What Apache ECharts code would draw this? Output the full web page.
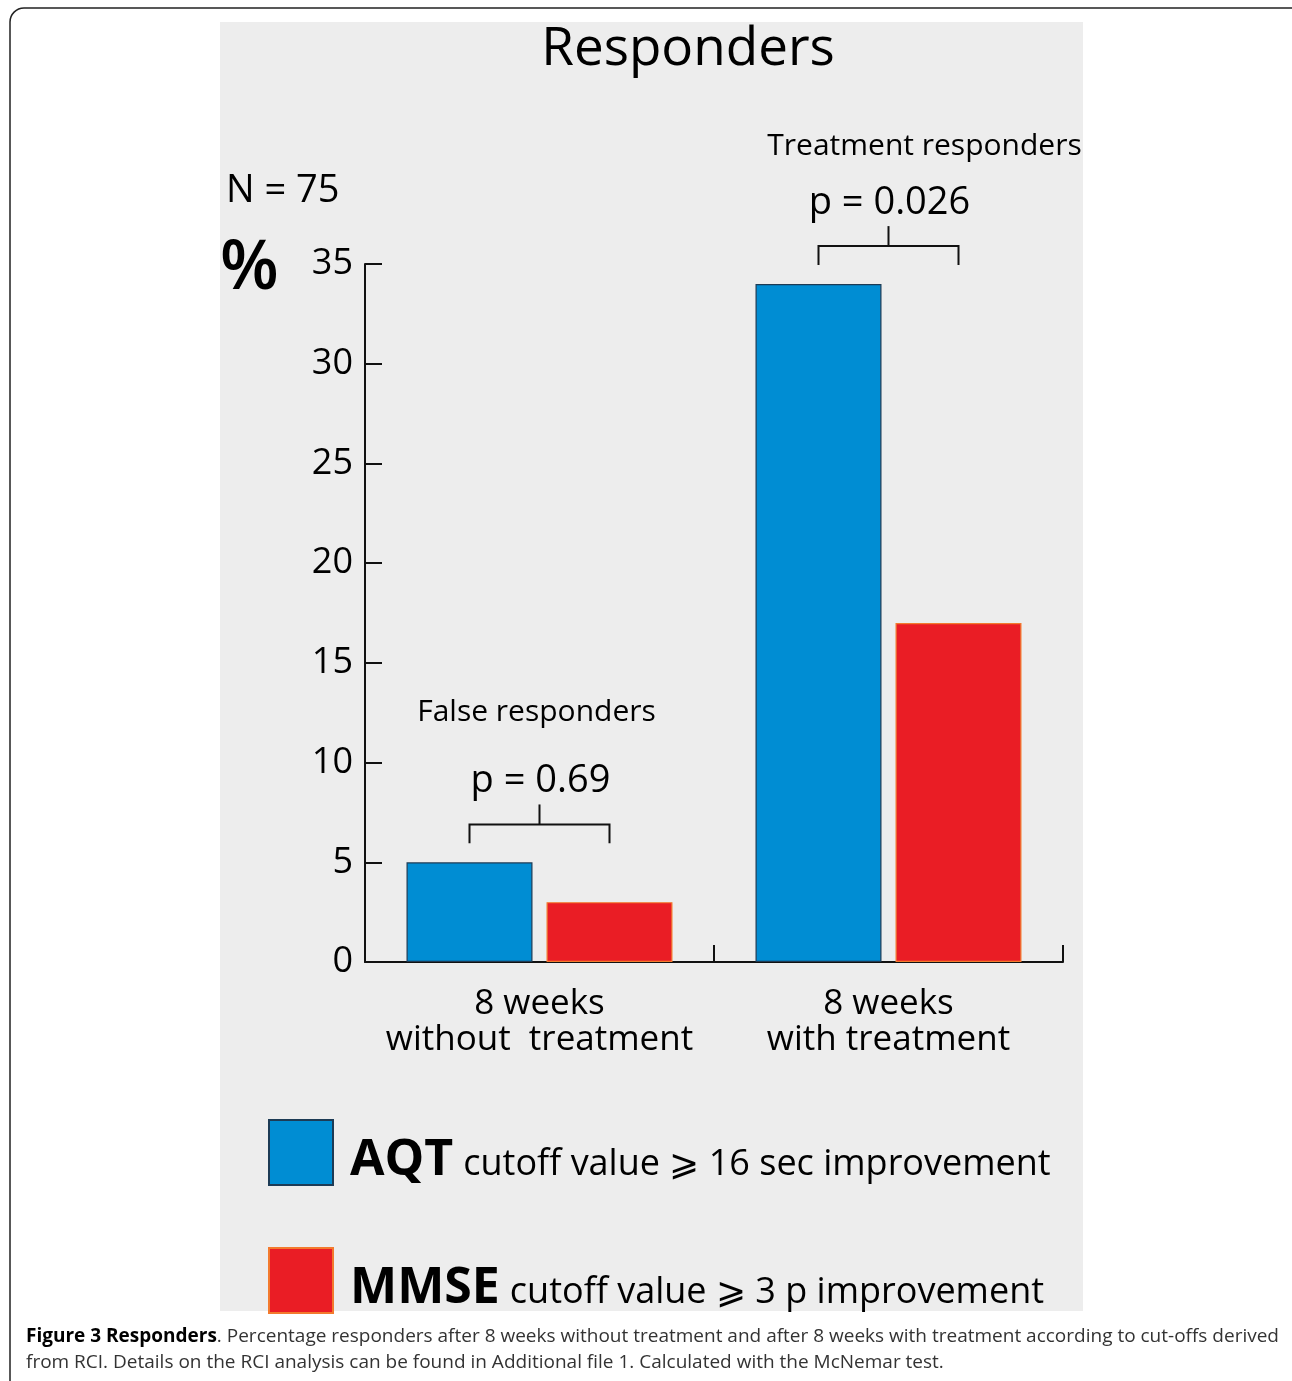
<!DOCTYPE html>
<html>
<head>
<meta charset="utf-8">
<script src="https://cdn.jsdelivr.net/npm/echarts@6/dist/echarts.min.js"></script>
<style>
html,body{margin:0;padding:0;background:#fff;}
#chart{width:1292px;height:1381px;}
</style>
</head>
<body>
<div id="chart"></div>
<script>
// ---- data ----
const categories = ['8 weeks\nwithout  treatment', '8 weeks\nwith treatment'];
const aqtValues = [5, 34];
const mmseValues = [3, 17];
const seriesNames = ['AQT', 'MMSE'];
const legendDescriptions = ['cutoff value \u2A7E 16 sec improvement', 'cutoff value \u2A7E 3 p improvement'];
const pValues = ['p = 0.69', 'p = 0.026'];
const groupLabels = ['False responders', 'Treatment responders'];
const yMin = 0, yMax = 35, yInterval = 5;

// ---- style ----
const FONT = '"Open Sans", "Noto Sans", sans-serif';
const BAR_W = 126, BAR_GAP = 14;
const labelDx = [-3, 36], labelDy = [-112, -100];
const BLUE = '#008DD3', RED = '#EA1D25';

const chart = echarts.init(document.getElementById('chart'), null, {renderer: 'canvas'});

const option = {
  backgroundColor: '#ffffff',
  animation: false,
  textStyle: {fontFamily: FONT},
  grid: {left: 365, right: 229, top: 264, bottom: 419, containLabel: false},
  legend: {
    data: seriesNames,
    orient: 'vertical',
    left: 268, top: 1119,
    padding: 0,
    itemWidth: 64, itemHeight: 65, itemGap: 61,
    selectedMode: false,
    icon: 'rect',
    formatter: function (name) {
      const i = seriesNames.indexOf(name);
      return '{b|' + name + '}{n|' + legendDescriptions[i] + '}';
    },
    textStyle: {
      padding: [16, 0, 0, 0],
      rich: {
        b: {fontFamily: FONT, fontSize: 50, fontWeight: 'bold', color: '#000', padding: [0, 10, 0, 12]},
        n: {fontFamily: FONT, fontSize: 36, color: '#000', padding: [8, 0, 0, 0]}
      }
    }
  },
  xAxis: {
    type: 'category',
    data: categories,
    axisLine: {lineStyle: {color: '#111', width: 2}},
    axisTick: {show: true, inside: true, length: 17, interval: 0, lineStyle: {color: '#111', width: 2}},
    axisLabel: {interval: 0, fontSize: 35, color: '#000', lineHeight: 36, margin: 24, fontFamily: FONT},
    splitLine: {show: false}
  },
  yAxis: {
    type: 'value',
    min: yMin, max: yMax, interval: yInterval,
    axisLine: {show: true, lineStyle: {color: '#111', width: 2}},
    axisTick: {show: true, inside: true, length: 17, lineStyle: {color: '#111', width: 2}},
    axisLabel: {fontSize: 36, color: '#000', margin: 12, padding: [6, 0, 0, 0], fontFamily: FONT},
    splitLine: {show: false}
  },
  series: [
    {
      name: seriesNames[0], type: 'bar', data: aqtValues,
      barWidth: BAR_W, barGap: (BAR_GAP / BAR_W * 100) + '%',
      itemStyle: {color: BLUE, borderColor: '#1d3b55', borderWidth: 1.2},
      z: 3
    },
    {
      name: seriesNames[1], type: 'bar', data: mmseValues,
      barWidth: BAR_W,
      itemStyle: {color: RED, borderColor: '#F37A2E', borderWidth: 1.2},
      z: 3
    },
    {
      type: 'custom',
      silent: true,
      clip: false,
      z: 5,
      data: aqtValues.map(function (v, i) { return [i, v, mmseValues[i]]; }),
      renderItem: function (params, api) {
        const i = api.value(0);
        const top = Math.max(api.value(1), api.value(2));
        const cx = api.coord([i, top])[0];
        const half = (BAR_W + BAR_GAP) / 2;
        const xl = cx - half, xr = cx + half;
        const yLeg = api.coord([i, top + 0.95])[1];
        const yH = api.coord([i, top + 1.9])[1];
        const yTop = api.coord([i, top + 2.9])[1];
        const ls = {stroke: '#111', lineWidth: 2, fill: null};
        return {
          type: 'group',
          children: [
            {type: 'polyline', shape: {points: [[xl, yLeg], [xl, yH], [xr, yH], [xr, yLeg]]}, style: ls},
            {type: 'line', shape: {x1: cx, y1: yH, x2: cx, y2: yTop}, style: ls},
            {type: 'text', style: {text: pValues[i], x: cx + 1, y: yH - 43, align: 'center', verticalAlign: 'middle',
              fontSize: 38, fontFamily: FONT, fill: '#000'}},
            {type: 'text', style: {text: groupLabels[i], x: cx + labelDx[i], y: yH + labelDy[i], align: 'center', verticalAlign: 'middle',
              fontSize: 30, fontFamily: FONT, fill: '#000'}}
          ]
        };
      }
    }
  ],
  graphic: [
    {type: 'rect', z: -10, silent: true, shape: {x: 220, y: 22, width: 863, height: 1289}, style: {fill: '#EDEDED'}},
    {type: 'rect', z: 10, silent: true, shape: {x: 10, y: 8, width: 1300, height: 1400, r: 14}, style: {fill: null, stroke: '#222', lineWidth: 1.5}},
    {type: 'text', z: 10, style: {text: 'Responders', x: 688, y: 50, align: 'center', verticalAlign: 'middle', fontSize: 53, fontFamily: FONT, fill: '#000'}},
    {type: 'text', z: 10, style: {text: 'N = 75', x: 226, y: 191, align: 'left', verticalAlign: 'middle', fontSize: 38, fontFamily: FONT, fill: '#000'}},
    {type: 'text', z: 10, style: {text: '%', x: 220, y: 270, align: 'left', verticalAlign: 'middle', fontSize: 68, fontWeight: 600, fontFamily: FONT, fill: '#000'}},
    {type: 'text', z: 10, style: {
      text: '{b|Figure 3 Responders}. Percentage responders after 8 weeks without treatment and after 8 weeks with treatment according to cut-offs derived',
      x: 26, y: 1337, align: 'left', verticalAlign: 'middle', fontSize: 19, fontFamily: FONT, fill: '#333',
      rich: {b: {fontWeight: 'bold', fill: '#000', fontSize: 19, fontFamily: FONT}}
    }},
    {type: 'text', z: 10, style: {
      text: 'from RCI. Details on the RCI analysis can be found in Additional file 1. Calculated with the McNemar test.',
      x: 26, y: 1363, align: 'left', verticalAlign: 'middle', fontSize: 19, fontFamily: FONT, fill: '#333'
    }}
  ]
};
chart.setOption(option);
</script>
</body>
</html>
